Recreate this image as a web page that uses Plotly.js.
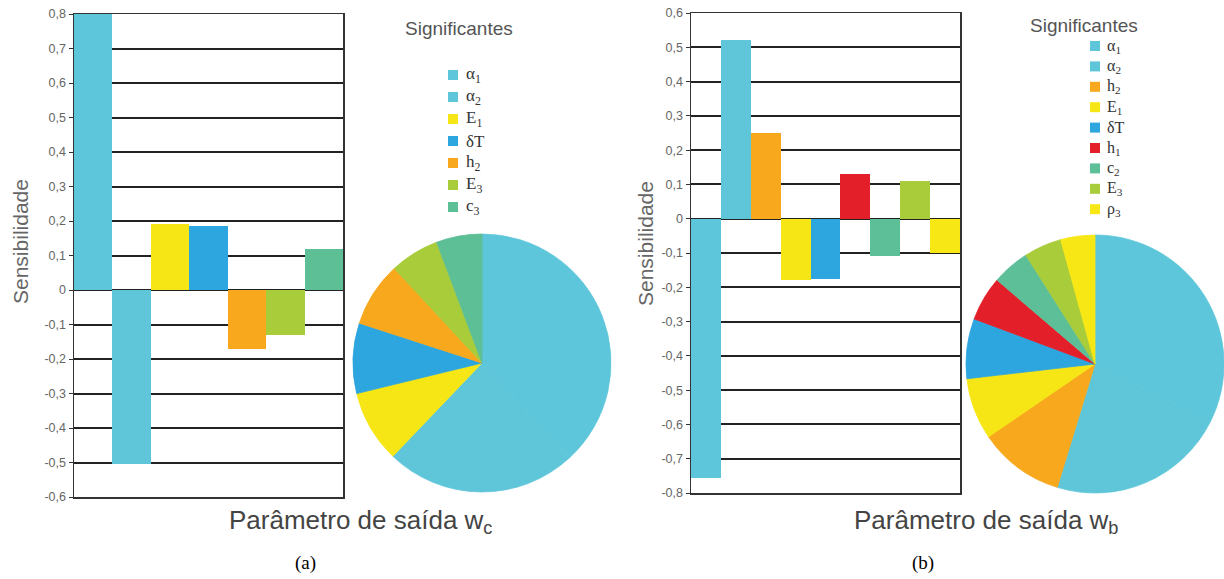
<!DOCTYPE html>
<html><head><meta charset="utf-8">
<script src="https://cdn.plot.ly/plotly-3.0.1.min.js"></script>
<style>html,body{margin:0;padding:0;background:#fff}#chart{width:1224px;height:579px}</style>
</head><body><div id="chart"></div>
<script>
// Panel (a): output parameter w_c
var labelsA = ["α<sub>1</sub>", "α<sub>2</sub>", "E<sub>1</sub>", "δT", "h<sub>2</sub>", "E<sub>3</sub>", "c<sub>3</sub>"];
var valuesA = [0.80, -0.505, 0.19, 0.185, -0.17, -0.13, 0.12];
var colorsA = ["#5EC6DA", "#5FC6D9", "#F6E616", "#2DA5DE", "#F7A81D", "#A9CC3B", "#5DBF95"];

// Panel (b): output parameter w_b
var labelsB = ["α<sub>1</sub>", "α<sub>2</sub>", "h<sub>2</sub>", "E<sub>1</sub>", "δT", "h<sub>1</sub>", "c<sub>2</sub>", "E<sub>3</sub>", "ρ<sub>3</sub>"];
var valuesB = [-0.755, 0.52, 0.25, -0.18, -0.175, 0.13, -0.11, 0.11, -0.10];
var colorsB = ["#5EC6DA", "#5FC6D9", "#F7A81D", "#F6E616", "#2DA5DE", "#E3202A", "#5DBF98", "#A9CC3B", "#F7E714"];

var tickValsA = [-0.6,-0.5,-0.4,-0.3,-0.2,-0.1,0,0.1,0.2,0.3,0.4,0.5,0.6,0.7,0.8];
var tickValsB = [-0.8,-0.7,-0.6,-0.5,-0.4,-0.3,-0.2,-0.1,0,0.1,0.2,0.3,0.4,0.5,0.6];
function commaLabels(v){ return v.map(function(t){ return String(Math.round(t*10)/10).replace('.', ','); }); }

var absA = valuesA.map(Math.abs);
var absB = valuesB.map(Math.abs);

var W = 1224, H = 579;
function px(x){ return x / W; }
function py(y){ return 1 - y / H; }

var traces = [
  {type:'bar', x: labelsA, y: valuesA, marker:{color: colorsA}, xaxis:'x', yaxis:'y', showlegend:false, hoverinfo:'x+y'},
  {type:'bar', x: labelsB, y: valuesB, marker:{color: colorsB}, xaxis:'x2', yaxis:'y2', showlegend:false, hoverinfo:'x+y'},
  {type:'pie', labels: labelsA, values: absA, marker:{colors: colorsA, line:{width:0.8, color: colorsA}}, sort:false, direction:'clockwise', rotation:0,
   textinfo:'none', domain:{x:[px(353),px(611)], y:[py(492),py(234)]}, showlegend:false},
  {type:'pie', labels: labelsB, values: absB, marker:{colors: colorsB, line:{width:0.8, color: colorsB}}, sort:false, direction:'clockwise', rotation:0,
   textinfo:'none', domain:{x:[px(966),1.0], y:[py(493),py(235)]}, showlegend:false}
];

var axisFont = {family:'Arial, Liberation Sans, sans-serif', size:12.5, color:'#666'};
var yCommon = {showgrid:true, gridcolor:'#222', gridwidth:2, zeroline:false, showline:true, linecolor:'#333', linewidth:1.5,
  mirror:true, ticks:'outside', ticklen:4, tickcolor:'#333', tickfont: axisFont, fixedrange:true};
var xCommon = {showticklabels:false, showgrid:false, zeroline:false, showline:true, linecolor:'#333', linewidth:1.5, mirror:true, ticks:'', fixedrange:true};

var sans = 'Arial, Liberation Sans, sans-serif';
var serif = 'Liberation Serif, Times New Roman, serif';

function ann(text, x, y, font, extra){
  return Object.assign({text:text, xref:'paper', yref:'paper', x:px(x), y:py(y), xanchor:'center', yanchor:'middle', showarrow:false, font:font}, extra || {});
}

var annotations = [
  ann('Significantes', 459, 29, {family:sans, size:19, color:'#555'}),
  ann('Significantes', 1084, 25, {family:sans, size:19, color:'#555'}),
  ann('Sensibilidade', 20, 242, {family:sans, size:21, color:'#666'}, {textangle:-90}),
  ann('Sensibilidade', 645, 244, {family:sans, size:21, color:'#666'}, {textangle:-90}),
  ann('Parâmetro de saída w<sub>c</sub>', 360, 521, {family:sans, size:26, color:'#444'}),
  ann('Parâmetro de saída w<sub>b</sub>', 986, 521, {family:sans, size:26, color:'#444'}),
  ann('(a)', 305, 563, {family:serif, size:19, color:'#000'}),
  ann('(b)', 923, 563, {family:serif, size:19, color:'#000'})
];
var shapes = [];

// hand-built legends (one per panel), listing the same labels and colours as the data
function addLegend(labels, colors, mx, y0, dy, tx, fsize, sq){
  for (var i = 0; i < labels.length; i++){
    var yc = y0 + dy * i;
    shapes.push({type:'rect', xref:'paper', yref:'paper', x0:px(mx - sq/2), x1:px(mx + sq/2), y0:py(yc + sq/2), y1:py(yc - sq/2),
      fillcolor: colors[i], line:{width:0}});
    annotations.push({text: labels[i], xref:'paper', yref:'paper', x:px(tx), y:py(yc), xanchor:'left', yanchor:'middle', showarrow:false,
      font:{family:serif, size:fsize, color:'#333'}});
  }
}
addLegend(labelsA, colorsA, 453, 75, 22, 464, 17, 10);
addLegend(labelsB, colorsB, 1095, 46, 20.4, 1105, 16, 10);

var layout = {
  width:W, height:H, margin:{l:0,r:0,t:0,b:0}, paper_bgcolor:'#fff', plot_bgcolor:'#fff',
  bargap:0, showlegend:false,
  xaxis: Object.assign({domain:[px(74),px(343)], anchor:'y'}, xCommon),
  yaxis: Object.assign({domain:[py(497),py(14)], anchor:'x', range:[-0.6,0.8], tickvals:tickValsA, ticktext:commaLabels(tickValsA)}, yCommon),
  xaxis2: Object.assign({domain:[px(691),px(960)], anchor:'y2'}, xCommon),
  yaxis2: Object.assign({domain:[py(493),py(13)], anchor:'x2', range:[-0.8,0.6], tickvals:tickValsB, ticktext:commaLabels(tickValsB)}, yCommon),
  annotations: annotations,
  shapes: shapes
};
Plotly.newPlot('chart', traces, layout, {displayModeBar:false, staticPlot:true});
</script></body></html>
